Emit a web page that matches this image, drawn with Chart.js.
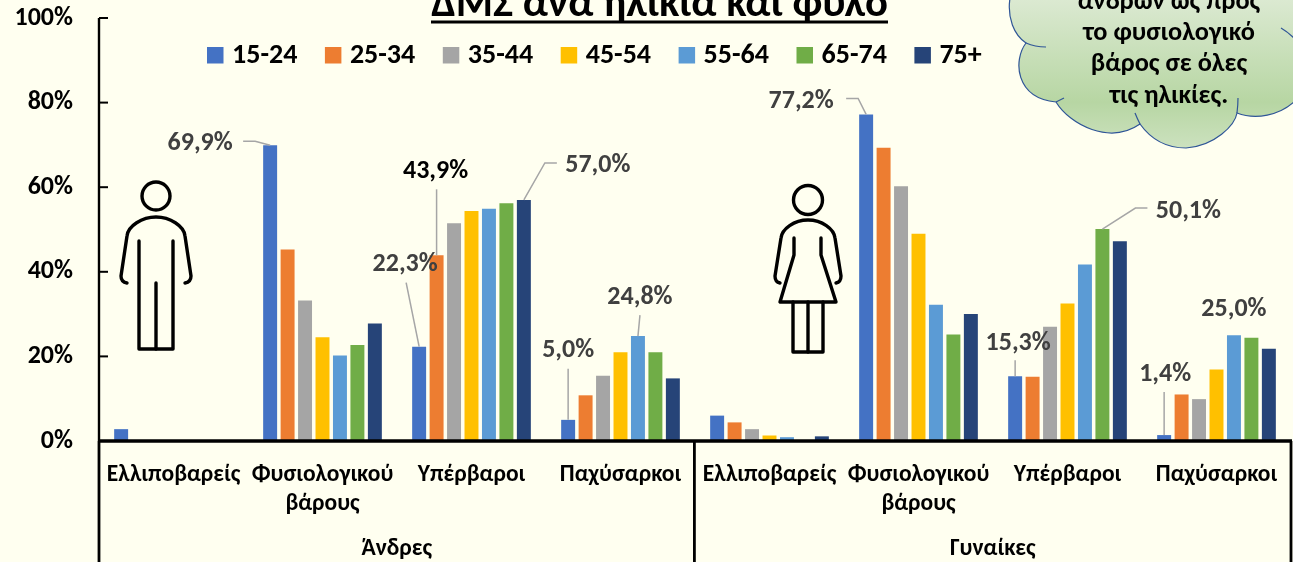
<!DOCTYPE html>
<html lang="el"><head><meta charset="utf-8">
<style>html,body{margin:0;padding:0;background:#FFFFF0;overflow:hidden}canvas{display:block}</style>
<script src="https://cdn.jsdelivr.net/npm/chart.js@4"></script>
</head><body><canvas id="c" width="1293" height="562"></canvas>
<script>
const FONT = "Carlito, Lato, 'Open Sans', sans-serif";
const categories = [['Ελλιποβαρείς'],['Φυσιολογικού','βάρους'],['Υπέρβαροι'],['Παχύσαρκοι'],['Ελλιποβαρείς'],['Φυσιολογικού','βάρους'],['Υπέρβαροι'],['Παχύσαρκοι']];
const groupLabels = ['Άνδρες','Γυναίκες'];
const ageLabels = ['15-24','25-34','35-44','45-54','55-64','65-74','75+'];
const age15_24 = [2.8,69.9,22.3,5.0,6.0,77.2,15.3,1.4];
const age25_34 = [null,45.3,43.9,10.8,4.4,69.3,15.2,11.0];
const age35_44 = [null,33.2,51.5,15.4,2.8,60.2,27.0,9.9];
const age45_54 = [null,24.5,54.4,21.0,1.3,49.0,32.5,16.9];
const age55_64 = [null,20.2,54.9,24.8,0.9,32.2,41.7,25.0];
const age65_74 = [null,22.7,56.2,21.0,null,25.2,50.1,24.4];
const age75 = [null,27.8,57.0,14.8,1.1,30.0,47.2,21.8];
const seriesValues = [age15_24,age25_34,age35_44,age45_54,age55_64,age65_74,age75];
const colours = ['#4472C4','#ED7D31','#A5A5A5','#FFC000','#5B9BD5','#70AD47','#264478'];
const titleText = 'ΔΜΣ ανά ηλικία και φύλο';
const cloudLines = ['ανδρών ως προς','το φυσιολογικό','βάρος σε όλες','τις ηλικίες.'];

// callouts: series, category, offset of label centre from bar top, leader points relative to bar top
const callouts = [
 {s:0,c:1,dx:-70,dy:-2,lead:[[-27,-4],[-15,-4],[0,0]]},
 {s:6,c:2,dx:74,dy:-34,lead:[[33,-37],[21,-37],[0,0]]},
 {s:1,c:2,dx:-1,dy:-84,lead:[[0,-66],[0,0]],col:'#000'},
 {s:0,c:2,dx:-14,dy:-82,lead:[[-13,-64],[0,0]]},
 {s:0,c:3,dx:0,dy:-69,lead:[[0,-51],[0,0]]},
 {s:4,c:3,dx:2,dy:-39,lead:[[2,-21],[0,0]]},
 {s:0,c:5,dx:-65,dy:-13,lead:[[-20,-16],[-8,-16],[0,0]]},
 {s:5,c:6,dx:86,dy:-18,lead:[[45,-21],[33,-21],[0,0]]},
 {s:0,c:6,dx:3,dy:-33,lead:[[0,-16],[0,0]]},
 {s:0,c:7,dx:1,dy:-61,lead:[[0,-43],[0,0]]},
 {s:4,c:7,dx:0,dy:-26,lead:null}
];

function stroke(ctx, pts, close){ctx.beginPath();pts.forEach((p,i)=>i?ctx.lineTo(p[0],p[1]):ctx.moveTo(p[0],p[1]));if(close)ctx.closePath();ctx.stroke();}

const decor = {
 id:'decor',
 beforeDatasetsDraw(chart){
  const ctx=chart.ctx; ctx.save();
  ctx.strokeStyle='#000';ctx.lineWidth=3.4;ctx.lineCap='round';ctx.lineJoin='round';
  // man
  ctx.beginPath();ctx.arc(156,196,14,0,Math.PI*2);ctx.stroke();
  ctx.beginPath();ctx.moveTo(127,283);ctx.quadraticCurveTo(121,282,121,276);ctx.lineTo(127,236);
  ctx.bezierCurveTo(128,226,142,217,156,217);ctx.bezierCurveTo(170,217,184,226,185,236);
  ctx.lineTo(191,276);ctx.quadraticCurveTo(191,282,185,283);ctx.stroke();
  stroke(ctx,[[139,241],[139,349],[173,349],[173,241]]);
  stroke(ctx,[[156,283],[156,349]]);
  // woman
  ctx.beginPath();ctx.arc(808,200,14.5,0,Math.PI*2);ctx.stroke();
  ctx.beginPath();ctx.moveTo(780,283);ctx.quadraticCurveTo(775,282,775,276);ctx.lineTo(781,238);
  ctx.bezierCurveTo(782,229,794,220,808,220);ctx.bezierCurveTo(822,220,834,229,835,238);
  ctx.lineTo(841,276);ctx.quadraticCurveTo(841,282,836,283);ctx.stroke();
  stroke(ctx,[[794,238],[794,255],[780,302],[836,302],[821,255],[821,238]]);
  stroke(ctx,[[793,302],[793,352],[823,352],[823,302]]);
  stroke(ctx,[[808,302],[808,352]]);
  ctx.restore();
 },
 afterDraw(chart){
  const ctx=chart.ctx,{x,y}=chart.scales,a=chart.chartArea;
  ctx.save();
  // y ticks (inward)
  ctx.strokeStyle='#000';ctx.lineWidth=2;
  y.ticks.forEach(t=>{const p=y.getPixelForValue(t.value);if(t.value>0)stroke(ctx,[[a.left,p],[a.left+9,p]]);});
  // axis frame
  const mid=(x.getPixelForTick(3)+x.getPixelForTick(4))/2-0.6;
  const H=chart.height;
  ctx.lineWidth=2.8;
  [a.left,mid,a.right].forEach(v=>stroke(ctx,[[v,a.bottom],[v,H]]));
  ctx.lineWidth=2.4;stroke(ctx,[[a.left,a.top],[a.left,a.bottom]]);
  ctx.lineWidth=3.6;stroke(ctx,[[a.left-1,a.bottom],[a.right+1,a.bottom]]);
  // legend
  ctx.textAlign='left';ctx.textBaseline='middle';ctx.font='bold 28px '+FONT;
  ageLabels.forEach((t,i)=>{
   const bx=207+117.9*i;
   ctx.fillStyle=colours[i];ctx.fillRect(bx,47,16.5,16.5);
   ctx.fillStyle='#000';ctx.fillText(t,bx+25,56);
  });
  // group labels
  ctx.fillStyle='#000';ctx.textAlign='center';ctx.textBaseline='middle';
  ctx.font='bold 23.5px '+FONT;
  ctx.fillText(groupLabels[0],(a.left+mid)/2,549);
  ctx.fillText(groupLabels[1],(mid+a.right)/2,549);
  // title
  ctx.font='bold 42.7px '+FONT;ctx.textBaseline='alphabetic';
  ctx.fillText(titleText,659.5,16);
  ctx.lineWidth=3;stroke(ctx,[[431,22],[888,22]]);
  // callouts
  callouts.forEach(k=>{
   const el=chart.getDatasetMeta(k.s).data[k.c];
   const v=seriesValues[k.s][k.c];
   if(k.lead){ctx.strokeStyle='#A6A6A6';ctx.lineWidth=1.5;stroke(ctx,k.lead.map(p=>[el.x+p[0],el.y+p[1]]));}
   ctx.fillStyle=k.col||'#404040';ctx.font='bold 26px '+FONT;ctx.textBaseline='middle';
   ctx.fillText(v.toFixed(1).replace('.',',')+'%',el.x+k.dx,el.y+k.dy);
  });
  // cloud
  const g=ctx.createLinearGradient(0,-20,0,150);
  g.addColorStop(0,'#E2EDDA');g.addColorStop(.72,'#B7D6A3');g.addColorStop(1,'#CDE2C0');
  ctx.fillStyle=g;ctx.strokeStyle='#2F5597';ctx.lineWidth=1.2;
  ctx.beginPath();ctx.moveTo(1010,-2);
  ctx.bezierCurveTo(1007,18,1014,35,1026,43);
  ctx.bezierCurveTo(1013,60,1015,98,1056,102);
  ctx.bezierCurveTo(1070,125,1110,145,1140,124);
  ctx.bezierCurveTo(1155,145,1175,148,1186,148);
  ctx.bezierCurveTo(1215,146,1235,125,1237,113);
  ctx.bezierCurveTo(1255,120,1280,116,1296,100);
  ctx.lineTo(1296,-2);ctx.closePath();ctx.fill();ctx.stroke();
  ctx.beginPath();ctx.moveTo(1026,43);ctx.quadraticCurveTo(1035,47,1046,47);ctx.stroke();
  ctx.beginPath();ctx.moveTo(1056,102);ctx.quadraticCurveTo(1060,100,1064,98);ctx.stroke();
  ctx.beginPath();ctx.moveTo(1140,124);ctx.quadraticCurveTo(1137,118,1135,113);ctx.stroke();
  ctx.beginPath();ctx.moveTo(1237,113);ctx.quadraticCurveTo(1238,105,1238,98);ctx.stroke();
  ctx.beginPath();ctx.moveTo(1281,28);ctx.quadraticCurveTo(1288,32,1296,40);ctx.stroke();
  ctx.fillStyle='#000';ctx.font='bold 26.3px '+FONT;ctx.textBaseline='middle';
  [2,33,64,96].forEach((yy,i)=>ctx.fillText(cloudLines[i],1169,yy));
  ctx.restore();
 }
};

const chart = new Chart(document.getElementById('c'),{
 type:'bar',
 data:{labels:categories,datasets:seriesValues.map((d,i)=>({label:ageLabels[i],data:d,backgroundColor:colours[i],borderWidth:0}))},
 options:{
  responsive:false,animation:false,
  layout:{padding:{top:18,right:2,left:0,bottom:0}},
  datasets:{bar:{categoryPercentage:0.82,barPercentage:0.8}},
  plugins:{tooltip:{enabled:false},title:{display:false},legend:{display:false}},
  scales:{
   x:{
    grid:{display:false},border:{display:false},
    afterFit(s){s.height=121;s.paddingLeft=0;s.paddingRight=0;},
    ticks:{autoSkip:false,maxRotation:0,minRotation:0,padding:12,color:'#000',font:{family:FONT,size:23.5,weight:'bold',lineHeight:1.234}}
   },
   y:{
    min:0,max:100,
    afterFit(s){s.width=99;s.paddingTop=0;s.paddingBottom=0;},
    grid:{drawOnChartArea:false,drawTicks:false},border:{display:false},
    ticks:{stepSize:20,padding:26,color:'#000',font:{family:FONT,size:26,weight:'bold'},callback:v=>v+'%'}
   }
  }
 },
 plugins:[decor]
});
</script></body></html>
